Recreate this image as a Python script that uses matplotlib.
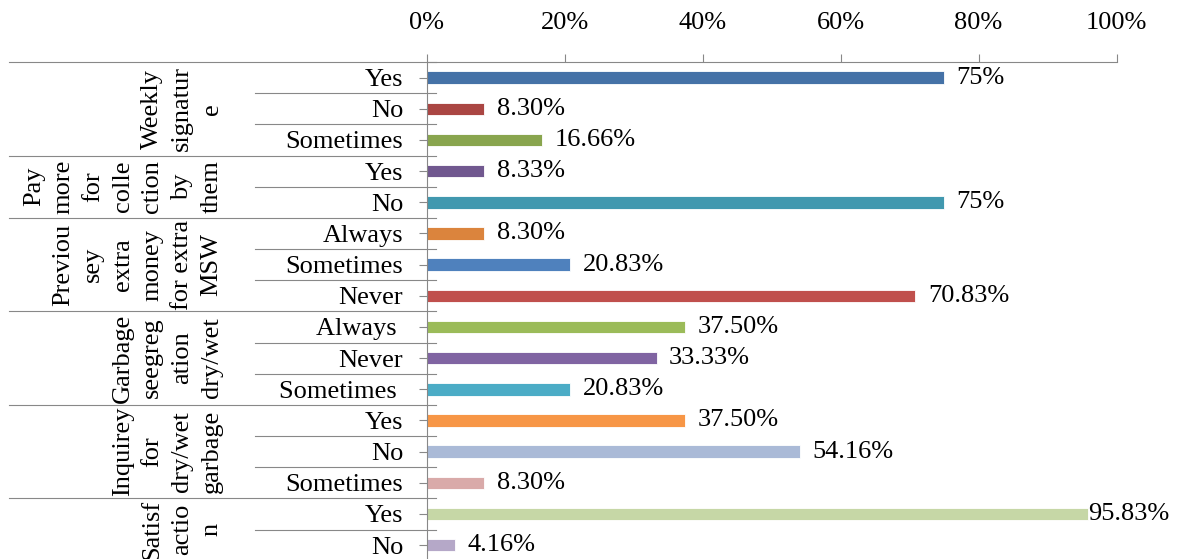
import numpy as np
import matplotlib.pyplot as plt
from matplotlib.transforms import blended_transform_factory

plt.rcParams['font.family'] = ['Liberation Serif', 'DejaVu Serif']

# survey answers, top to bottom
groups = ['Weekly\nsignatur\ne',
          'Pay\nmore\nfor\ncolle\nction\nby\nthem',
          'Previou\nsey\nextra\nmoney\nfor extra\nMSW',
          'Garbage\nseegreg\nation\ndry/wet',
          'Inquirey\nfor\ndry/wet\ngarbage',
          'Satisf\nactio\nn']
group_sizes = [3, 2, 3, 3, 3, 2]
answers = ['Yes', 'No', 'Sometimes',
           'Yes', 'No',
           'Always', 'Sometimes', 'Never',
           'Always ', 'Never', 'Sometimes ',
           'Yes', 'No', 'Sometimes',
           'Yes', 'No']
values = [75, 8.30, 16.66,
          8.33, 75,
          8.30, 20.83, 70.83,
          37.50, 33.33, 20.83,
          37.50, 54.16, 8.30,
          95.83, 4.16]
labels = ['75%', '8.30%', '16.66%',
          '8.33%', '75%',
          '8.30%', '20.83%', '70.83%',
          '37.50%', '33.33%', '20.83%',
          '37.50%', '54.16%', '8.30%',
          '95.83%', '4.16%']
colors = ['#4572A7', '#AA4643', '#89A54E',
          '#71588F', '#4198AF',
          '#DB843D', '#4F81BD', '#C0504D',
          '#9BBB59', '#8064A2', '#4BACC6',
          '#F79646', '#AABAD7', '#D9AAA9',
          '#C6D7A6', '#B5A8C8']

fs = 19

fig = plt.figure(figsize=(11.79, 5.59), dpi=100)
ax = fig.add_axes([0.362, -0.003, 0.585, 0.892])

n = len(values)
y = np.arange(n)
ax.barh(y, values, height=0.4, color=colors, edgecolor='white', linewidth=0.6)

for yi, v, lab in zip(y, values, labels):
    off = 0 if v > 90 else 9
    ax.annotate(lab, xy=(v, yi), xytext=(off, 0), textcoords='offset points',
                ha='left', va='center', fontsize=fs)

ax.set_xlim(0, 100)
ax.set_ylim(n - 0.5, -0.5)
ax.xaxis.tick_top()
ax.set_xticks(np.arange(0, 101, 20))
ax.set_xticklabels([f'{t}%' for t in range(0, 101, 20)], fontsize=fs)
ax.set_yticks(y)
ax.set_yticklabels(answers, fontsize=fs)
ax.tick_params(axis='x', direction='out', length=6, width=0.8, color='#888888', pad=14)
ax.tick_params(axis='y', direction='out', length=6, width=0.8, color='#888888', pad=11)

for s in ['right', 'bottom']:
    ax.spines[s].set_visible(False)
for s in ['top', 'left']:
    ax.spines[s].set_color('#888888')
    ax.spines[s].set_linewidth(0.8)

# separator lines between answers and between groups
tr = blended_transform_factory(ax.transAxes, ax.transData)
bounds = np.cumsum([0] + group_sizes)
for b in range(n + 1):
    x0 = -0.606 if b in bounds else -0.249
    ax.plot([x0, 0.013], [b - 0.5, b - 0.5], color='#888888', lw=0.8,
            transform=tr, clip_on=False)

# rotated group titles
for g, start, size in zip(groups, bounds[:-1], group_sizes):
    ax.text(-0.296, start + size / 2 - 0.5, g, transform=tr, rotation=90,
            ha='right', va='center', multialignment='center',
            fontsize=fs, linespacing=1.45)

fig.savefig('out.png', dpi=100)
